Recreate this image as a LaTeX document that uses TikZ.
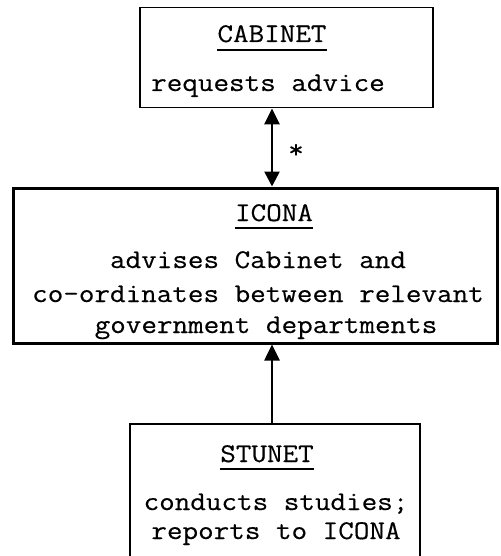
\documentclass[tikz,border=0pt]{standalone}
\usepackage{fontspec}
\newfontfamily\cour[FakeStretch=1.12,FakeBold=0.4]{Latin Modern Mono}
\usetikzlibrary{arrows.meta}
\begin{document}
\begin{tikzpicture}[x=1pt,y=1pt,
  box/.style={draw, rectangle, inner sep=0pt},
  txt/.style={inner sep=0pt, anchor=base, font=\cour\fontsize{27}{30}\selectfont},
  conn/.style={line width=2.6pt, -{Triangle[length=16pt,width=15pt]}},
  ulin/.style={line width=1.6pt}]
\clip (0,0) rectangle (500,-556);
\fill[white] (0,0) rectangle (500,-556);
\coordinate (ax) at (272,0);
% boxes
\node[box, line width=1.8pt, minimum width=293pt, minimum height=100pt] (cab) at (286.5,-57.5) {};
\node[box, line width=3pt, minimum width=484pt, minimum height=155pt] (icona) at (255,-265.5) {};
\node[box, line width=2.4pt, minimum width=290pt, minimum height=170pt] (stunet) at (275,-509) {};
% CABINET texts
\node[txt] (cabt) at (272,-42) {CABINET};
\draw[ulin] ([yshift=-8pt]cabt.base west) -- ([yshift=-8pt]cabt.base east);
\node[txt] (cab1) at (268,-91) {requests advice};
% ICONA texts
\node[txt] (icot) at (274,-221) {ICONA};
\draw[ulin] ([yshift=-7pt]icot.base west) -- ([yshift=-7pt]icot.base east);
\node[txt] (ico1) at (258,-268) {advises Cabinet and};
\node[txt] (ico2) at (258,-302) {co-ordinates between relevant};
\node[txt] (ico3) at (266,-333) {government departments};
% STUNET texts
\node[txt] (stut) at (267,-462) {STUNET};
\draw[ulin] ([yshift=-7pt]stut.base west) -- ([yshift=-7pt]stut.base east);
\node[txt] (stu1) at (276,-510) {conducts studies;};
\node[txt] (stu2) at (276,-539) {reports to ICONA};
% connectors
\draw[conn, {Triangle[length=16pt,width=15pt]}-{Triangle[length=15pt,width=15pt]}] (cab.south -| ax) -- (icona.north -| ax);
\node[inner sep=0pt, font=\cour\fontsize{27}{30}\selectfont] (star) at (296,-151) {*};
\draw[conn] (stunet.north -| ax) -- (icona.south -| ax);
\end{tikzpicture}
\end{document}
